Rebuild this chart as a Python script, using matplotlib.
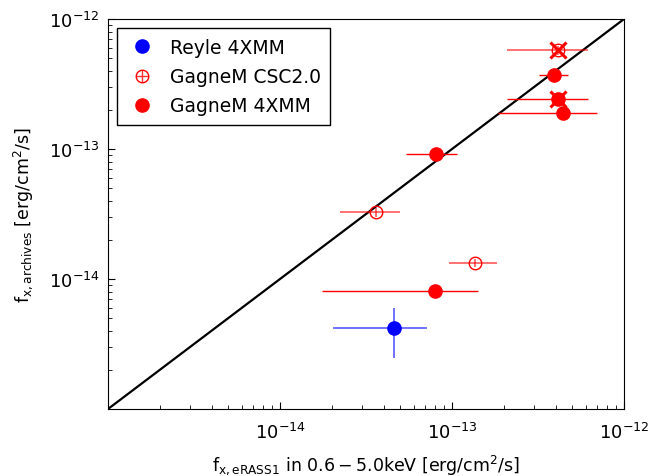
import numpy as np
import matplotlib
matplotlib.use("Agg")
import matplotlib.pyplot as plt
from matplotlib.lines import Line2D

plt.rcParams['font.family'] = ['DejaVu Sans']
plt.rcParams['mathtext.fontset'] = 'dejavusans'

# eRASS1 fluxes (x) vs archival fluxes (y), with lower/upper bounds on x
reyle_x = [4.6e-14]
reyle_xlo = [2.03e-14]
reyle_xhi = [7.15e-14]
reyle_y = [4.2e-15]
reyle_ylo = [2.47e-15]
reyle_yhi = [5.98e-15]

csc_x = [3.61e-14, 1.36e-13, 4.13e-13]
csc_xlo = [2.23e-14, 9.62e-14, 2.09e-13]
csc_xhi = [4.99e-14, 1.83e-13, 6.18e-13]
csc_y = [3.27e-14, 1.33e-14, 5.78e-13]
csc_yerr = [0.25e-14, 0.1e-14, 0.45e-13]

xmm_x = [8.0e-14, 8.07e-14, 3.92e-13, 4.13e-13, 4.42e-13]
xmm_xlo = [1.75e-14, 5.41e-14, 3.21e-13, 2.09e-13, 1.85e-13]
xmm_xhi = [1.42e-13, 1.07e-13, 4.72e-13, 6.18e-13, 6.97e-13]
xmm_y = [8.09e-15, 9.15e-14, 3.71e-13, 2.43e-13, 1.89e-13]

# flagged sources (crossed out)
flag_x = [4.13e-13, 4.13e-13]
flag_y = [5.78e-13, 2.43e-13]


def asym(v, lo, hi):
    v = np.array(v)
    return [v - np.array(lo), np.array(hi) - v]


fig = plt.figure(figsize=(6.48, 4.77), dpi=100)
ax = fig.add_axes([0.1667, 0.1405, 0.7963, 0.8175])

ax.plot([1e-15, 1e-12], [1e-15, 1e-12], color='black', lw=1.6, zorder=1)

eb = ax.errorbar(reyle_x, reyle_y, xerr=asym(reyle_x, reyle_xlo, reyle_xhi),
                 yerr=asym(reyle_y, reyle_ylo, reyle_yhi), fmt='o', color='blue',
                 ms=9.5, elinewidth=1.2, zorder=3)
for c in eb[2]:
    c.set_alpha(0.65)

eb = ax.errorbar(csc_x, csc_y, xerr=asym(csc_x, csc_xlo, csc_xhi), yerr=csc_yerr,
                 fmt='o', color='red', mfc='none', ms=9, mew=1.0, elinewidth=1.1,
                 zorder=3)
for c in eb[2]:
    c.set_alpha(0.7)

ax.errorbar(xmm_x, xmm_y, xerr=asym(xmm_x, xmm_xlo, xmm_xhi), fmt='o', color='red',
            ms=9.5, elinewidth=1.0, zorder=3)

ax.plot(flag_x, flag_y, 'x', color='red', ms=12, mew=2.2, zorder=4)

ax.set_xscale('log')
ax.set_yscale('log')
ax.set_xlim(1e-15, 1e-12)
ax.set_ylim(1e-15, 1e-12)
ax.set_xticks([1e-14, 1e-13, 1e-12])
ax.set_yticks([1e-14, 1e-13, 1e-12])
ax.tick_params(which='both', direction='in', labelsize=13)
ax.tick_params(axis='x', which='major', pad=9)
ax.tick_params(axis='y', which='major', pad=6)
ax.tick_params(which='major', length=5)
ax.tick_params(which='minor', length=3)

ax.set_xlabel(r'$\mathrm{f}_{\mathrm{x,eRASS1}}$ in $0.6-5.0\mathrm{keV}$ [erg/cm$^2$/s]',
              fontsize=12.5, labelpad=8)
ax.set_ylabel(r'$\mathrm{f}_{\mathrm{x,archives}}$ [erg/cm$^2$/s]', fontsize=12.5, labelpad=10)

# legend handles: plain markers, the CSC one with a crossing line through it
h_reyle = Line2D([], [], ls='none', marker='o', color='blue', ms=9.5)
h_csc = (Line2D([], [], ls='none', marker='o', color='red', mfc='none', ms=9, mew=1.0),
         Line2D([], [], ls='none', marker='+', color='red', ms=9, mew=1.0, alpha=0.8))
h_xmm = Line2D([], [], ls='none', marker='o', color='red', ms=9.5)
leg = ax.legend([h_reyle, h_csc, h_xmm], ['Reyle 4XMM', 'GagneM CSC2.0', 'GagneM 4XMM'],
                loc='upper left', fontsize=13.5, fancybox=False, edgecolor='black',
                framealpha=1, handletextpad=0.7, labelspacing=0.55, borderpad=0.5,
                handlelength=1.6)
leg.get_frame().set_linewidth(1.0)

fig.savefig('out.png', dpi=100)
